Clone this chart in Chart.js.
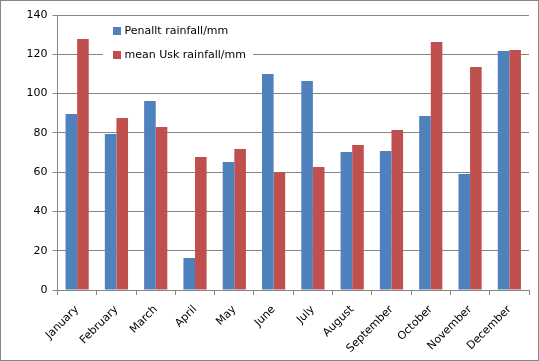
<!DOCTYPE html>
<html>
<head>
  <title>Rainfall</title>
  <script src="https://cdn.jsdelivr.net/npm/chart.js"></script>
  <style>
    html, body { margin: 0; padding: 0; background: #fff; }
    #wrap { width: 539px; height: 361px; position: relative; }
  </style>
</head>
<body>
<div id="wrap"><canvas id="rainChart"></canvas></div>

<script>
  const months = ['January', 'February', 'March', 'April', 'May', 'June',
                  'July', 'August', 'September', 'October', 'November', 'December'];
  const penallt = [89.6, 79.4, 96.2, 16.3, 65.2, 110, 106.4, 70.3, 70.8, 88.6, 59.1, 121.7];
  const usk = [127.8, 87.6, 83, 67.7, 71.8, 60, 62.6, 73.8, 81.5, 126.3, 113.5, 122.2];
  const seriesNames = ['Penallt rainfall/mm', 'mean Usk rainfall/mm'];

  const font = { family: 'DejaVu Sans, Verdana, sans-serif', size: 11 };
  const gridGrey = '#868686';

  // outer frame + legend drawn inside plot
  const extras = {
    id: 'extras',
    afterDraw(chart) {
      const c = chart.ctx;
      const area = chart.chartArea;
      c.save();
      c.strokeStyle = gridGrey;
      c.lineWidth = 1;
      c.strokeRect(0.5, 0.5, chart.width - 1, chart.height - 1);

      const x0 = area.left + 45.5;
      c.fillStyle = '#fff';
      c.fillRect(x0, area.top + 6, 150, 56);
      c.font = font.size + 'px ' + font.family;
      c.textBaseline = 'middle';
      chart.data.datasets.forEach((ds, i) => {
        const y = area.top + 16 + i * 24;
        c.fillStyle = ds.backgroundColor;
        c.fillRect(x0 + 10, y - 4, 8, 8);
        c.fillStyle = '#000';
        c.fillText(ds.label, x0 + 21.5, y + 0.5);
      });
      c.restore();
    }
  };

  new Chart(document.getElementById('rainChart'), {
    type: 'bar',
    data: {
      labels: months,
      datasets: [
        { label: seriesNames[0], data: penallt, backgroundColor: '#4F81BD' },
        { label: seriesNames[1], data: usk, backgroundColor: '#C0504D' }
      ]
    },
    options: {
      responsive: true,
      maintainAspectRatio: false,
      animation: false,
      layout: { padding: { top: 15, right: 10, left: 0, bottom: 0 } },
      datasets: { bar: { categoryPercentage: 0.59, barPercentage: 1 } },
      plugins: { legend: { display: false }, tooltip: { enabled: false } },
      scales: {
        x: {
          grid: { drawOnChartArea: false, drawTicks: true, tickLength: 5, color: gridGrey },
          border: { color: gridGrey },
          ticks: { font: font, color: '#000', minRotation: 45, maxRotation: 45, padding: 8 },
          afterFit(scale) { scale.height = 71; }
        },
        y: {
          min: 0,
          max: 140,
          grid: { color: gridGrey, tickLength: 5 },
          border: { color: gridGrey },
          ticks: { stepSize: 20, font: font, color: '#000', padding: 5 },
          afterFit(scale) { scale.width = 57.5; }
        }
      }
    },
    plugins: [extras]
  });
</script>
</body>
</html>
